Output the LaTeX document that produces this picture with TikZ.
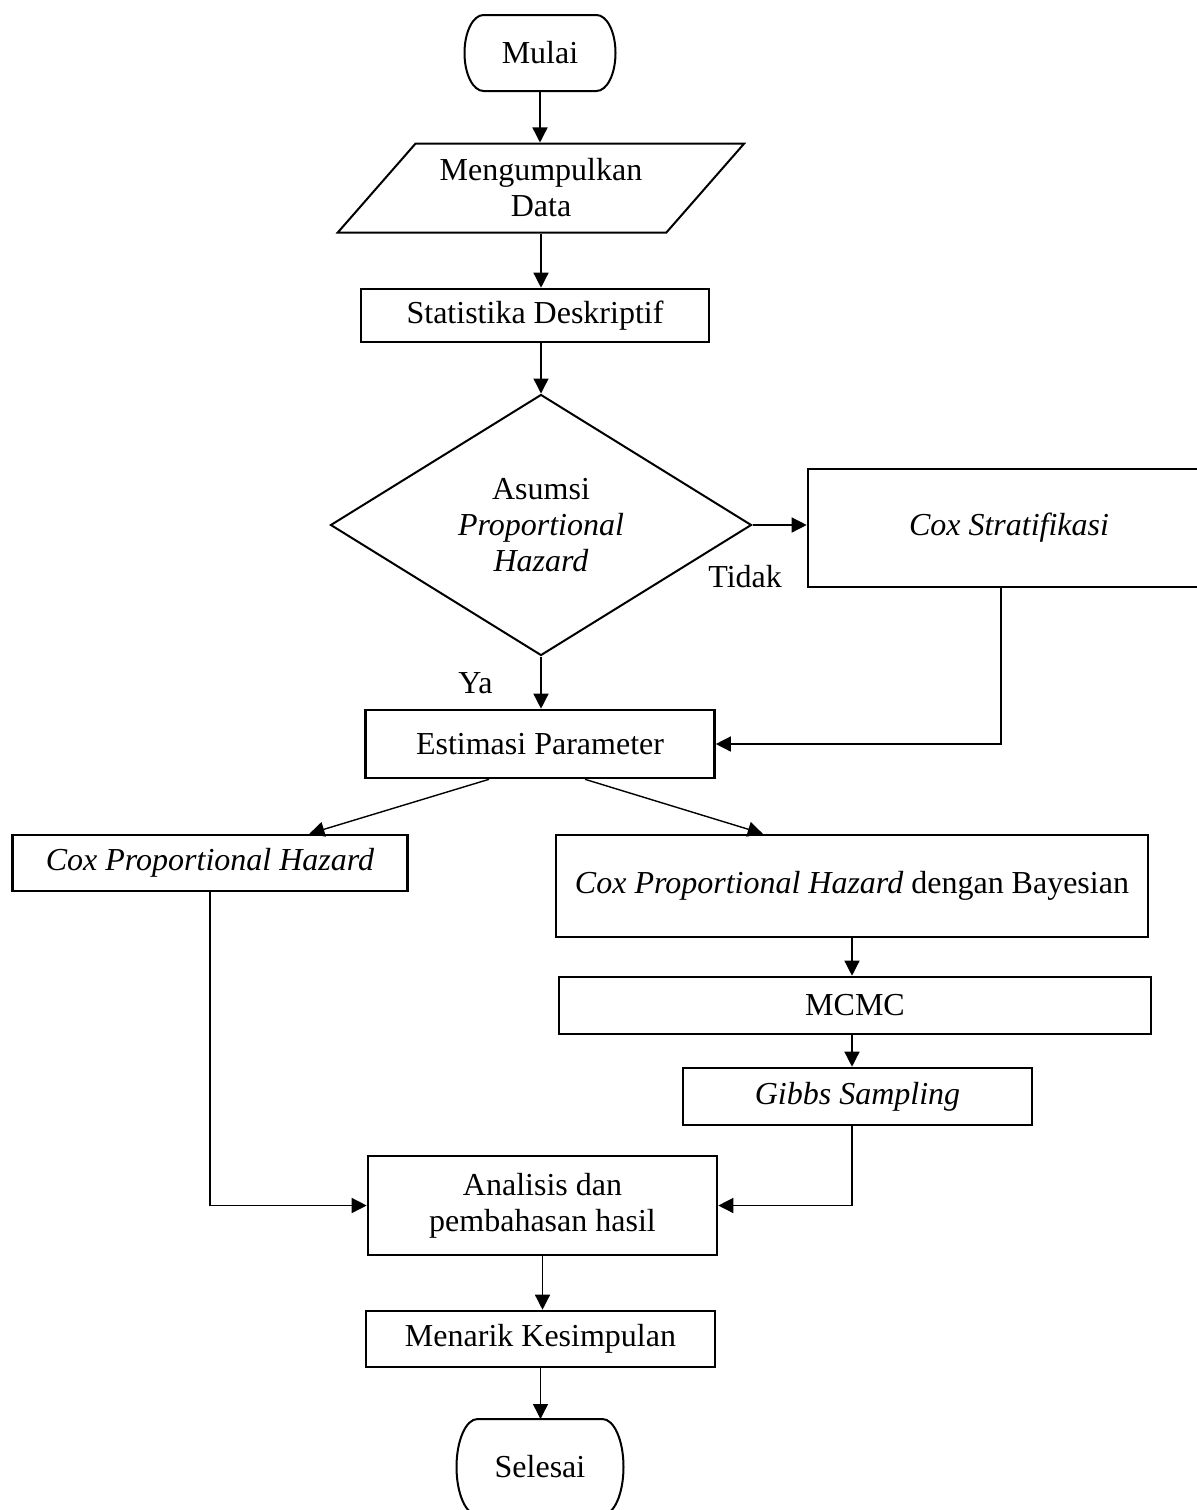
\documentclass[tikz,border=0pt]{standalone}
\usepackage{fontspec}
\setmainfont{Liberation Serif}
\usetikzlibrary{shapes.geometric,arrows.meta,calc}

\begin{document}
\begin{tikzpicture}[x=0.5pt,y=-0.5pt,
    every node/.style={font=\fontsize{16}{18}\selectfont},
    terminal/.style={rectangle, inner sep=0pt, outer sep=0pt, align=center},
    termline/.style={line width=1pt},
    io/.style={draw, trapezium, trapezium left angle=47, trapezium right angle=133,
      trapezium stretches=true, minimum width=203.5pt, minimum height=44.5pt,
      line width=1pt, align=center},
    process/.style={draw, line width=1.3pt, align=center, inner sep=2pt},
    decision/.style={draw, diamond, aspect=1.6, minimum width=210.5pt,
      minimum height=130.5pt, inner sep=0pt, line width=1pt, align=center},
    flowline/.style={line width=0.7pt, -{Triangle[length=7.5pt,width=7.5pt]}},
    lbl/.style={inner sep=0pt, anchor=base west}]
  \useasboundingbox (0,0) rectangle (1197,1510);

  % main column
  \node[terminal, minimum width=75.5pt, minimum height=38pt] (mulai) at (540,53) {Mulai};
  \node[io] (data) at (541,188) {Mengumpulkan\\Data};
  \node[process, minimum width=174pt, minimum height=26.5pt] (stat) at (535,315.5) {Statistika Deskriptif};
  \node[decision] (asumsi) at (541,525) {Asumsi\\\textit{Proportional}\\\textit{Hazard}};
  \node[process, minimum width=201pt, minimum height=59pt] (strat) at (1009,528) {\textit{Cox Stratifikasi}};
  \node[process, minimum width=174.5pt, minimum height=34pt] (estimasi) at (540,744) {Estimasi Parameter};

  % two methods
  \node[process, minimum width=197.5pt, minimum height=28pt] (coxph) at (210,863) {\textit{Cox Proportional Hazard}};
  \node[process, minimum width=296pt, minimum height=51pt] (bayes) at (852,886) {\textit{Cox Proportional Hazard} dengan Bayesian};
  \node[process, minimum width=296pt, minimum height=28.5pt] (mcmc) at (855,1005.5) {MCMC};
  \node[process, minimum width=174.5pt, minimum height=28.5pt] (gibbs) at (857.5,1096.5) {\textit{Gibbs Sampling}};

  % end
  \node[process, minimum width=174.5pt, minimum height=49.5pt] (analisis) at (542.5,1205.5) {Analisis dan\\pembahasan hasil};
  \node[process, minimum width=174.5pt, minimum height=28pt] (simpul) at (540.5,1339) {Menarik Kesimpulan};
  \node[terminal, minimum width=83.5pt, minimum height=48pt] (selesai) at (540,1467) {Selesai};

  \node[lbl] (tidak) at (708,587) {Tidak};
  \node[lbl] (ya) at (458,693) {Ya};

  % terminal outlines
  \draw[termline] ([xshift=9.5pt]mulai.north west) -- ([xshift=-9.5pt]mulai.north east)
    arc[start angle=90, end angle=-90, x radius=9.5pt, y radius=19pt]
    -- ([xshift=9.5pt]mulai.south west)
    arc[start angle=270, end angle=90, x radius=9.5pt, y radius=19pt] -- cycle;
  \draw[termline] ([xshift=10.5pt]selesai.north west) -- ([xshift=-10.5pt]selesai.north east)
    arc[start angle=90, end angle=-90, x radius=10.5pt, y radius=24pt]
    -- ([xshift=10.5pt]selesai.south west)
    arc[start angle=270, end angle=90, x radius=10.5pt, y radius=24pt] -- cycle;

  \draw[flowline] (mulai.south) -- (mulai.south |- data.north);
  \draw[flowline] (data.center |- data.south) -- (data.center |- stat.north);
  \draw[flowline] (asumsi.north |- stat.south) -- (asumsi.north);
  \draw[flowline] (asumsi.south) -- (asumsi.south |- estimasi.north);
  \draw[flowline] (asumsi.east) -- (asumsi.east -| strat.west);
  \draw[flowline] ([xshift=-4pt]strat.south) |- (estimasi.east);
  \draw[flowline] ($(estimasi.south west)!0.355!(estimasi.south east)$) -- ($(coxph.north west)!0.75!(coxph.north east)$);
  \draw[flowline] ($(estimasi.south west)!0.628!(estimasi.south east)$) -- ($(bayes.north west)!0.35!(bayes.north east)$);
  \draw[flowline] (bayes.south) -- (bayes.south |- mcmc.north);
  \draw[flowline] (bayes.south |- mcmc.south) -- (bayes.south |- gibbs.north);
  \draw[flowline] (coxph.south) |- (analisis.west);
  \draw[flowline] (bayes.south |- gibbs.south) |- (analisis.east);
  \draw[flowline] (analisis.south) -- (analisis.south |- simpul.north);
  \draw[flowline] (simpul.south) -- (simpul.south |- selesai.north);
\end{tikzpicture}
\end{document}
